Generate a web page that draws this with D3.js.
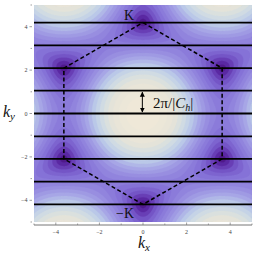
<!DOCTYPE html>
<html>
<head>
<meta charset="utf-8">
<script src="https://cdn.jsdelivr.net/npm/d3@7"></script>
<style>
    body { margin: 0; background: #fff; }
    svg { display: block; }
    .tick-label { font-family: "Liberation Serif", serif; font-size: 6px; fill: #444; }
    .lbl { font-family: "Liberation Serif", "DejaVu Serif", serif; fill: #111; }
</style>
</head>
<body>
<svg width="258" height="254"></svg>
<script>
// values
var cutLines = [-4.19, -3.14, -2.09, -1.05, 0, 1.05, 2.09, 3.14, 4.19];   // k_y of the cutting lines
var hexagon = [[0, 4.19], [3.63, 2.09], [3.63, -2.09], [0, -4.19], [-3.63, -2.09], [-3.63, 2.09]];
var xTicks = [-4, -2, 0, 2, 4];
var yTicks = [-4, -2, 0, 2, 4];
var minorTicks = [-5, -3, -1, 1, 3, 5];
var levels = [0, 0.15, 0.3, 0.45, 0.6, 0.75, 0.9, 1.05, 1.2, 1.35, 1.5, 1.65, 1.8, 1.95, 2.1, 2.25, 2.4, 2.55, 2.7, 2.85];
var colorStops = [0, 0.25, 0.5, 0.8, 1.2, 1.6, 1.9, 2.2, 2.5, 3.0];
var colorValues = ["#4a127e", "#5c2aa6", "#7352c4", "#8470d6", "#9488de", "#a8a8e6", "#bccbe8", "#d2dde2", "#e6e4d8", "#f0e9d8"];
var kLabels = ["K", "\u2212K"];

var svg = d3.select("svg");

var x = d3.scaleLinear().domain([-5, 5]).range([34, 252]);
var y = d3.scaleLinear().domain([-5, 5]).range([222, 5]);
var color = d3.scaleLinear().domain(colorStops).range(colorValues).clamp(true);

// graphene band |f(k)|, lattice constant 1
var energy = function (kx, ky) {
    var p1 = kx * Math.sqrt(3) / 2 + ky / 2;
    var p2 = kx * Math.sqrt(3) / 2 - ky / 2;
    var s = 3 + 2 * Math.cos(p1) + 2 * Math.cos(p2) + 2 * Math.cos(ky);
    return Math.sqrt(Math.max(s, 0));
};

var n = 260;
var grid = new Array(n * n);
for (var j = 0; j < n; j++) {
    for (var i = 0; i < n; i++) {
        grid[j * n + i] = energy(-5 + 10 * (i + 0.5) / n, -5 + 10 * (j + 0.5) / n);
    }
}

var contours = d3.contours().size([n, n]).thresholds(levels)(grid);

var proj = d3.geoTransform({
    point: function (gx, gy) {
        this.stream.point(x(-5 + 10 * gx / n), y(-5 + 10 * gy / n));
    }
});
var path = d3.geoPath(proj);

var bandColor = function (d, k) {
    var hi = k + 1 < levels.length ? levels[k + 1] : 3;
    return color((d.value + hi) / 2);
};

svg.append("defs").append("clipPath")
    .attr("id", "clip")
  .append("rect")
    .attr("x", x(-5)).attr("y", y(5))
    .attr("width", x(5) - x(-5)).attr("height", y(-5) - y(5));

var g = svg.append("g").attr("clip-path", "url(#clip)");

g.selectAll("path.band")
    .data(contours)
  .enter().append("path")
    .attr("class", "band")
    .attr("d", path)
    .attr("fill", bandColor)
    .attr("stroke", bandColor)
    .attr("stroke-width", 0.3);

// cutting lines
svg.selectAll("line.cut")
    .data(cutLines)
  .enter().append("line")
    .attr("class", "cut")
    .attr("x1", x(-5)).attr("x2", x(5))
    .attr("y1", function (d) { return y(d); })
    .attr("y2", function (d) { return y(d); })
    .attr("stroke", "#000")
    .attr("stroke-width", 1.8);

// brillouin zone
svg.append("path")
    .datum(hexagon)
    .attr("d", d3.line().x(function (d) { return x(d[0]); }).y(function (d) { return y(d[1]); }).curve(d3.curveLinearClosed))
    .attr("fill", "none")
    .attr("stroke", "#000")
    .attr("stroke-width", 1.5)
    .attr("stroke-dasharray", "4,2.5");

// axes
svg.append("line")
    .attr("x1", x(-5)).attr("x2", x(5))
    .attr("y1", 225).attr("y2", 225)
    .attr("stroke", "#777").attr("stroke-width", 1);

svg.selectAll("line.xt")
    .data(xTicks.concat(minorTicks))
  .enter().append("line")
    .attr("class", "xt")
    .attr("x1", function (d) { return x(d); })
    .attr("x2", function (d) { return x(d); })
    .attr("y1", 225).attr("y2", function (d) { return d % 2 === 0 ? 222.5 : 223.5; })
    .attr("stroke", "#777").attr("stroke-width", 0.7);

svg.selectAll("text.xt")
    .data(xTicks)
  .enter().append("text")
    .attr("class", "tick-label")
    .attr("x", function (d) { return x(d); })
    .attr("y", 234)
    .attr("text-anchor", "middle")
    .text(function (d) { return d < 0 ? "\u2212" + (-d) : d; });

svg.selectAll("line.yt")
    .data(yTicks.concat(minorTicks))
  .enter().append("line")
    .attr("class", "yt")
    .attr("x1", function (d) { return d % 2 === 0 ? 29.5 : 30.5; })
    .attr("x2", 32)
    .attr("y1", function (d) { return y(d); })
    .attr("y2", function (d) { return y(d); })
    .attr("stroke", "#777").attr("stroke-width", 0.7);

svg.selectAll("text.yt")
    .data(yTicks)
  .enter().append("text")
    .attr("class", "tick-label")
    .attr("x", 27.5)
    .attr("y", function (d) { return y(d) + 2; })
    .attr("text-anchor", "end")
    .text(function (d) { return d < 0 ? "\u2212" + (-d) : d; });

// axis titles
var kx = svg.append("text").attr("class", "lbl").attr("x", 138).attr("y", 248).style("font-size", "16px");
kx.append("tspan").style("font-style", "italic").text("k");
kx.append("tspan").style("font-style", "italic").style("font-size", "11px").attr("dy", 3).text("x");

var ky = svg.append("text").attr("class", "lbl").attr("x", 3).attr("y", 117).style("font-size", "16px");
ky.append("tspan").style("font-style", "italic").text("k");
ky.append("tspan").style("font-style", "italic").style("font-size", "11px").attr("dy", 3).text("y");

// K points
svg.append("text").attr("class", "lbl")
    .attr("x", x(hexagon[0][0]) - 9).attr("y", y(hexagon[0][1]) - 3)
    .attr("text-anchor", "end").style("font-size", "14px")
    .text(kLabels[0]);

svg.append("text").attr("class", "lbl")
    .attr("x", x(hexagon[3][0]) - 9).attr("y", y(hexagon[3][1]) + 14)
    .attr("text-anchor", "end").style("font-size", "14px")
    .text(kLabels[1]);

// spacing arrow between two cutting lines
var marker = svg.select("defs").append("marker")
    .attr("id", "head")
    .attr("viewBox", "0 0 10 10")
    .attr("refX", 9).attr("refY", 5)
    .attr("markerWidth", 5).attr("markerHeight", 6)
    .attr("markerUnits", "userSpaceOnUse")
    .attr("orient", "auto-start-reverse");
marker.append("path").attr("d", "M0,0L10,5L0,10z").attr("fill", "#000");

svg.append("line")
    .attr("x1", x(-0.03)).attr("x2", x(-0.03))
    .attr("y1", y(cutLines[5]) + 1.5).attr("y2", y(cutLines[4]) - 1.5)
    .attr("stroke", "#000").attr("stroke-width", 1)
    .attr("marker-start", "url(#head)")
    .attr("marker-end", "url(#head)");

var sp = svg.append("text").attr("class", "lbl").attr("x", 153).attr("y", 107.5).style("font-size", "15px");
sp.append("tspan").text("2\u03c0/|");
sp.append("tspan").style("font-style", "italic").text("C");
sp.append("tspan").style("font-style", "italic").style("font-size", "10px").attr("dy", 3).text("h");
sp.append("tspan").attr("dy", -3).text("|");
</script>
</body>
</html>
